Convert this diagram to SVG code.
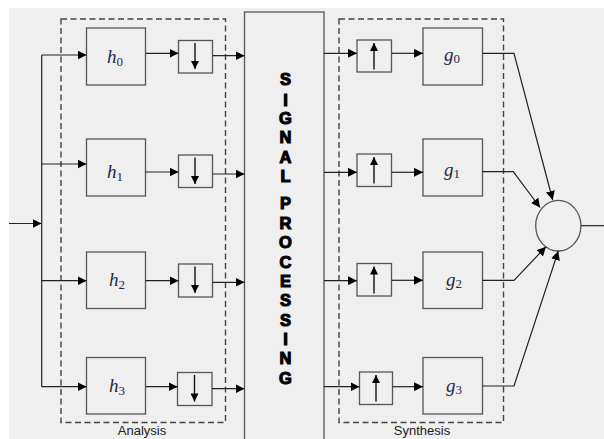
<svg xmlns="http://www.w3.org/2000/svg" width="604" height="439" viewBox="0 0 604 439">
  <defs>
    <marker id="ah" viewBox="0 0 10 10" refX="10" refY="5" markerWidth="9" markerHeight="9" markerUnits="userSpaceOnUse" orient="auto">
      <path d="M0,0 L10,5 L0,10 Z" fill="#000"/>
    </marker>
    <marker id="ahs" viewBox="0 0 10 10" refX="10" refY="5" markerWidth="9" markerHeight="8" markerUnits="userSpaceOnUse" orient="auto">
      <path d="M0,0 L10,5 L0,10 Z" fill="#000"/>
    </marker>
  </defs>
  <style>
    .box { fill: none; stroke: #555; stroke-width: 1.3; }
    .dash { fill: none; stroke: #444; stroke-width: 1.4; stroke-dasharray: 6 3.5; }
    .wire { fill: none; stroke: #222; stroke-width: 1.2; }
    .arr { fill: none; stroke: #222; stroke-width: 1.2; marker-end: url(#ah); }
    .inner { fill: none; stroke: #111; stroke-width: 1.4; marker-end: url(#ahs); }
    .math { font-family: "Liberation Serif", "DejaVu Serif", serif; font-style: italic; font-size: 19px; fill: #1e2a48; }
    .sub { font-style: normal; font-size: 13px; }
    .sp { font-family: "Liberation Sans", Arial, sans-serif; font-weight: bold; font-size: 16.5px; fill: #000; stroke: #000; stroke-width: 1.1; text-anchor: middle; }
    .cap { font-family: "Liberation Sans", Arial, sans-serif; font-size: 13px; fill: #222; text-anchor: middle; }
  </style>

  <!-- backdrop -->
  <rect x="9" y="8" width="595" height="431" fill="#efefef"/>

  <!-- dashed stage frames -->
  <g id="analysis">
    <rect class="dash" x="61" y="19" width="164.5" height="403.5"/>
    <text class="cap" x="142" y="435">Analysis</text>
  </g>
  <g id="synthesis">
    <rect class="dash" x="339" y="19" width="164.5" height="403.5"/>
    <text class="cap" x="422" y="435">Synthesis</text>
  </g>

  <!-- central processing block -->
  <g id="signal-processing">
    <rect class="box" x="244.5" y="12" width="79.5" height="440"/>
    <text class="sp" x="285.5" y="85">S</text>
    <text class="sp" x="285.5" y="106">I</text>
    <text class="sp" x="285.5" y="124">G</text>
    <text class="sp" x="285.5" y="143">N</text>
    <text class="sp" x="285.5" y="163">A</text>
    <text class="sp" x="285.5" y="182">L</text>
    <text class="sp" x="285.5" y="209">P</text>
    <text class="sp" x="285.5" y="229">R</text>
    <text class="sp" x="285.5" y="248">O</text>
    <text class="sp" x="285.5" y="268">C</text>
    <text class="sp" x="285.5" y="287">E</text>
    <text class="sp" x="285.5" y="306">S</text>
    <text class="sp" x="285.5" y="326">S</text>
    <text class="sp" x="285.5" y="345">I</text>
    <text class="sp" x="285.5" y="364">N</text>
    <text class="sp" x="285.5" y="384">G</text>
  </g>

  <!-- analysis filters -->
  <g id="h0"><rect class="box" x="86.5" y="28" width="59" height="57"/><text class="math" x="107" y="63">h<tspan class="sub" dy="3">0</tspan></text></g>
  <g id="h1"><rect class="box" x="86.5" y="139" width="59" height="57"/><text class="math" x="107" y="178">h<tspan class="sub" dy="3">1</tspan></text></g>
  <g id="h2"><rect class="box" x="86.5" y="252" width="59" height="56.5"/><text class="math" x="109" y="286">h<tspan class="sub" dy="3">2</tspan></text></g>
  <g id="h3"><rect class="box" x="86.5" y="357.5" width="59" height="56.5"/><text class="math" x="109" y="392">h<tspan class="sub" dy="3">3</tspan></text></g>

  <!-- downsamplers -->
  <g id="down0"><rect class="box" x="178.5" y="40.5" width="34" height="32.5"/><line class="inner" x1="195" y1="43" x2="195" y2="69"/></g>
  <g id="down1"><rect class="box" x="178.5" y="155" width="34" height="32.5"/><line class="inner" x1="195" y1="157.5" x2="195" y2="184"/></g>
  <g id="down2"><rect class="box" x="178.5" y="264" width="34" height="33"/><line class="inner" x1="195" y1="266.5" x2="195" y2="293"/></g>
  <g id="down3"><rect class="box" x="177.5" y="372.5" width="34.5" height="33"/><line class="inner" x1="194.5" y1="375" x2="194.5" y2="401.5"/></g>

  <!-- upsamplers -->
  <g id="up0"><rect class="box" x="357" y="40" width="34.5" height="32"/><line class="inner" x1="374" y1="69.5" x2="374" y2="43"/></g>
  <g id="up1"><rect class="box" x="357" y="154" width="34.5" height="32.5"/><line class="inner" x1="374" y1="183.5" x2="374" y2="157"/></g>
  <g id="up2"><rect class="box" x="357" y="263.5" width="34.5" height="32.5"/><line class="inner" x1="374" y1="293.5" x2="374" y2="266.5"/></g>
  <g id="up3"><rect class="box" x="359.5" y="372" width="33" height="32.5"/><line class="inner" x1="376" y1="401.5" x2="376" y2="375"/></g>

  <!-- synthesis filters -->
  <g id="g0"><rect class="box" x="423" y="28" width="59.5" height="57"/><text class="math" x="444" y="61">g<tspan class="sub" dy="2">0</tspan></text></g>
  <g id="g1"><rect class="box" x="423" y="139" width="59.5" height="57"/><text class="math" x="444" y="176">g<tspan class="sub" dy="2">1</tspan></text></g>
  <g id="g2"><rect class="box" x="423" y="252" width="59.5" height="56.5"/><text class="math" x="446" y="286">g<tspan class="sub" dy="2">2</tspan></text></g>
  <g id="g3"><rect class="box" x="423" y="357.5" width="59.5" height="56.5"/><text class="math" x="446" y="392">g<tspan class="sub" dy="2">3</tspan></text></g>

  <!-- summing junction -->
  <g id="sum"><ellipse cx="558.3" cy="225.7" rx="22.6" ry="25.3" fill="none" stroke="#555" stroke-width="1.3"/></g>

  <g id="connectors">
    <!-- input and fan-out -->
    <line class="arr" x1="9" y1="223.5" x2="41.5" y2="223.5"/>
    <line class="wire" x1="41.7" y1="55" x2="41.7" y2="386.7"/>
    <line class="arr" x1="41.7" y1="55" x2="86.5" y2="55"/>
    <line class="arr" x1="41.7" y1="164" x2="86.5" y2="164"/>
    <line class="arr" x1="41.7" y1="280.7" x2="86.5" y2="280.7"/>
    <line class="arr" x1="41.7" y1="386.7" x2="86.5" y2="386.7"/>
    <!-- filters to downsamplers -->
    <line class="arr" x1="145.5" y1="53.3" x2="178.5" y2="53.3"/>
    <line class="arr" x1="145.5" y1="172" x2="178.5" y2="172"/>
    <line class="arr" x1="145.5" y1="280.7" x2="178.5" y2="280.7"/>
    <line class="arr" x1="145.5" y1="386.7" x2="177.5" y2="386.7"/>
    <!-- downsamplers to processing -->
    <line class="arr" x1="212.5" y1="55.7" x2="244.5" y2="55.7"/>
    <line class="arr" x1="212.5" y1="174" x2="244.5" y2="174"/>
    <line class="arr" x1="212.5" y1="282.3" x2="244.5" y2="282.3"/>
    <line class="arr" x1="212" y1="388.7" x2="244.5" y2="388.7"/>
    <!-- processing to upsamplers -->
    <line class="arr" x1="324" y1="53.3" x2="357" y2="53.3"/>
    <line class="arr" x1="324" y1="172.3" x2="357" y2="172.3"/>
    <line class="arr" x1="324" y1="280.7" x2="357" y2="280.7"/>
    <line class="arr" x1="324" y1="386.7" x2="359.5" y2="386.7"/>
    <!-- upsamplers to synthesis filters -->
    <line class="arr" x1="391.5" y1="53.3" x2="423" y2="53.3"/>
    <line class="arr" x1="391.5" y1="172.3" x2="423" y2="172.3"/>
    <line class="arr" x1="391.5" y1="280.3" x2="423" y2="280.3"/>
    <line class="arr" x1="392.5" y1="386.7" x2="423" y2="386.7"/>
    <!-- synthesis filters into the sum -->
    <polyline class="arr" points="482.5,53.3 514,53.3 552.7,200"/>
    <polyline class="arr" points="482.5,171.7 513.3,171.7 540,207.5"/>
    <polyline class="arr" points="482.5,280.3 514,280.3 546,246.7"/>
    <polyline class="arr" points="482.5,386 514,386 558.3,251"/>
    <!-- output -->
    <line class="wire" x1="581" y1="225.7" x2="604" y2="225.7"/>
  </g>
</svg>
